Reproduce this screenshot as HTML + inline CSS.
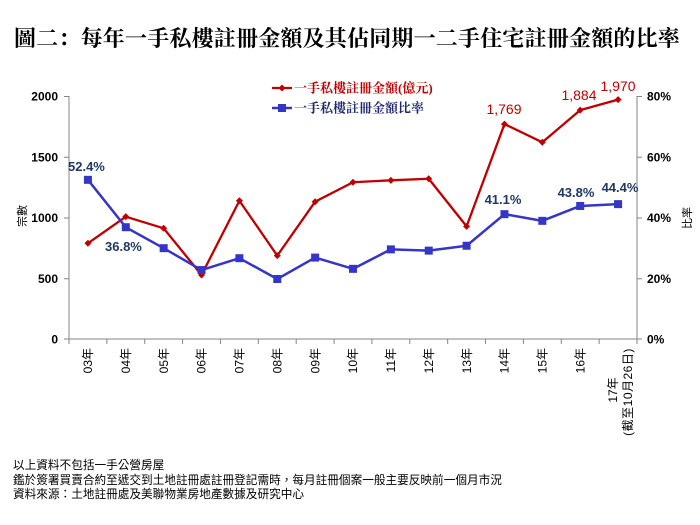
<!DOCTYPE html>
<html><head><meta charset="utf-8">
<style>
html,body{margin:0;padding:0;background:#fff;}
svg{display:block;}
</style></head>
<body>
<svg width="700" height="525" viewBox="0 0 700 525" xmlns="http://www.w3.org/2000/svg">
<rect width="700" height="525" fill="#fff"/>
<!-- Title -->
<text x="14" y="46" font-family="'Liberation Serif','Noto Serif CJK SC',serif" font-weight="bold" font-size="22" letter-spacing="0.2" fill="#000">圖二：每年一手私樓註冊金額及其佔同期一二手住宅註冊金額的比率</text>

<!-- Axes -->
<g stroke="#868686" stroke-width="1" fill="none">
<line x1="69" y1="96" x2="69" y2="339"/>
<line x1="637" y1="96" x2="637" y2="339"/>
<line x1="69" y1="339" x2="637" y2="339"/>
<line x1="64" y1="96.5" x2="69" y2="96.5"/>
<line x1="64" y1="157.25" x2="69" y2="157.25"/>
<line x1="64" y1="218" x2="69" y2="218"/>
<line x1="64" y1="278.75" x2="69" y2="278.75"/>
<line x1="64" y1="339" x2="69" y2="339"/>
<line x1="637" y1="96.5" x2="642" y2="96.5"/>
<line x1="637" y1="157.25" x2="642" y2="157.25"/>
<line x1="637" y1="218" x2="642" y2="218"/>
<line x1="637" y1="278.75" x2="642" y2="278.75"/>
<line x1="637" y1="339" x2="642" y2="339"/>
<line x1="69" y1="339" x2="69" y2="344"/>
<line x1="106.87" y1="339" x2="106.87" y2="344"/>
<line x1="144.73" y1="339" x2="144.73" y2="344"/>
<line x1="182.6" y1="339" x2="182.6" y2="344"/>
<line x1="220.47" y1="339" x2="220.47" y2="344"/>
<line x1="258.33" y1="339" x2="258.33" y2="344"/>
<line x1="296.2" y1="339" x2="296.2" y2="344"/>
<line x1="334.07" y1="339" x2="334.07" y2="344"/>
<line x1="371.93" y1="339" x2="371.93" y2="344"/>
<line x1="409.8" y1="339" x2="409.8" y2="344"/>
<line x1="447.67" y1="339" x2="447.67" y2="344"/>
<line x1="485.53" y1="339" x2="485.53" y2="344"/>
<line x1="523.4" y1="339" x2="523.4" y2="344"/>
<line x1="561.27" y1="339" x2="561.27" y2="344"/>
<line x1="599.13" y1="339" x2="599.13" y2="344"/>
<line x1="637" y1="339" x2="637" y2="344"/>
</g>

<!-- Left tick labels -->
<g font-family="'Liberation Sans',sans-serif" font-weight="bold" font-size="12" fill="#000" text-anchor="end">
<text x="58" y="100.5">2000</text>
<text x="58" y="161.5">1500</text>
<text x="58" y="222">1000</text>
<text x="58" y="283">500</text>
<text x="58" y="343.5">0</text>
</g>
<!-- Right tick labels -->
<g font-family="'Liberation Sans',sans-serif" font-weight="bold" font-size="12" fill="#000" text-anchor="start">
<text x="647" y="100.5">80%</text>
<text x="647" y="161.5">60%</text>
<text x="647" y="222">40%</text>
<text x="647" y="283">20%</text>
<text x="647" y="343.5">0%</text>
</g>

<!-- Axis titles -->
<text transform="translate(22,216) rotate(-90)" text-anchor="middle" dy="0.35em" font-family="'Liberation Sans','Noto Sans CJK TC',sans-serif" font-size="11" fill="#000">宗數</text>
<text transform="translate(687,218) rotate(-90)" text-anchor="middle" dy="0.35em" font-family="'Liberation Sans','Noto Sans CJK TC',sans-serif" font-size="11" fill="#000">比率</text>

<!-- X labels -->
<g font-family="'Liberation Sans','Noto Sans CJK TC',sans-serif" font-size="12" fill="#000" text-anchor="end">
<text transform="translate(87.93,348) rotate(-90)" dy="0.35em">03年</text>
<text transform="translate(125.8,348) rotate(-90)" dy="0.35em">04年</text>
<text transform="translate(163.67,348) rotate(-90)" dy="0.35em">05年</text>
<text transform="translate(201.53,348) rotate(-90)" dy="0.35em">06年</text>
<text transform="translate(239.4,348) rotate(-90)" dy="0.35em">07年</text>
<text transform="translate(277.27,348) rotate(-90)" dy="0.35em">08年</text>
<text transform="translate(315.13,348) rotate(-90)" dy="0.35em">09年</text>
<text transform="translate(353,348) rotate(-90)" dy="0.35em">10年</text>
<text transform="translate(390.87,348) rotate(-90)" dy="0.35em">11年</text>
<text transform="translate(428.73,348) rotate(-90)" dy="0.35em">12年</text>
<text transform="translate(466.6,348) rotate(-90)" dy="0.35em">13年</text>
<text transform="translate(504.47,348) rotate(-90)" dy="0.35em">14年</text>
<text transform="translate(542.33,348) rotate(-90)" dy="0.35em">15年</text>
<text transform="translate(580.2,348) rotate(-90)" dy="0.35em">16年</text>
</g>
<g font-family="'Liberation Sans','Noto Sans CJK TC',sans-serif" font-size="12" fill="#000" text-anchor="middle">
<text transform="translate(613,390) rotate(-90)" dy="0.35em">17年</text>
<text transform="translate(628,392) rotate(-90)" dy="0.35em" letter-spacing="0.5">(截至10月26日)</text>
</g>

<!-- Red series -->
<polyline fill="none" stroke="#c00000" stroke-width="2.3" stroke-linejoin="round"
 points="87.93,243.26 125.8,216.65 163.67,228.31 201.53,274.97 239.4,200.73 277.27,255.65 315.13,201.7 353,182.26 390.87,180.32 428.73,178.74 466.6,226.37 504.47,124.07 542.33,142.29 580.2,110.09 618.07,99.64"/>
<g fill="#c00000">
<polygon points="87.93,239.76 91.43,243.26 87.93,246.76 84.43,243.26"/>
<polygon points="125.8,213.15 129.3,216.65 125.8,220.15 122.3,216.65"/>
<polygon points="163.67,224.81 167.17,228.31 163.67,231.81 160.17,228.31"/>
<polygon points="201.53,271.47 205.03,274.97 201.53,278.47 198.03,274.97"/>
<polygon points="239.4,197.23 242.9,200.73 239.4,204.23 235.9,200.73"/>
<polygon points="277.27,252.15 280.77,255.65 277.27,259.15 273.77,255.65"/>
<polygon points="315.13,198.2 318.63,201.7 315.13,205.2 311.63,201.7"/>
<polygon points="353,178.76 356.5,182.26 353,185.76 349.5,182.26"/>
<polygon points="390.87,176.82 394.37,180.32 390.87,183.82 387.37,180.32"/>
<polygon points="428.73,175.24 432.23,178.74 428.73,182.24 425.23,178.74"/>
<polygon points="466.6,222.87 470.1,226.37 466.6,229.87 463.1,226.37"/>
<polygon points="504.47,120.57 507.97,124.07 504.47,127.57 500.97,124.07"/>
<polygon points="542.33,138.79 545.83,142.29 542.33,145.79 538.83,142.29"/>
<polygon points="580.2,106.59 583.7,110.09 580.2,113.59 576.7,110.09"/>
<polygon points="618.07,96.14 621.57,99.64 618.07,103.14 614.57,99.64"/>
</g>

<!-- Blue series -->
<polyline fill="none" stroke="#3535c8" stroke-width="2.5" stroke-linejoin="round"
 points="87.93,179.83 125.8,227.22 163.67,248.18 201.53,270.05 239.4,258.2 277.27,279.01 315.13,257.59 353,268.83 390.87,249.39 428.73,250.61 466.6,245.75 504.47,214.16 542.33,220.84 580.2,205.96 618.07,204.13"/>
<g fill="#3535c8">
<rect x="83.93" y="175.83" width="8" height="8"/>
<rect x="121.8" y="223.22" width="8" height="8"/>
<rect x="159.67" y="244.18" width="8" height="8"/>
<rect x="197.53" y="266.05" width="8" height="8"/>
<rect x="235.4" y="254.2" width="8" height="8"/>
<rect x="273.27" y="275.01" width="8" height="8"/>
<rect x="311.13" y="253.59" width="8" height="8"/>
<rect x="349" y="264.83" width="8" height="8"/>
<rect x="386.87" y="245.39" width="8" height="8"/>
<rect x="424.73" y="246.61" width="8" height="8"/>
<rect x="462.6" y="241.75" width="8" height="8"/>
<rect x="500.47" y="210.16" width="8" height="8"/>
<rect x="538.33" y="216.84" width="8" height="8"/>
<rect x="576.2" y="201.96" width="8" height="8"/>
<rect x="614.07" y="200.13" width="8" height="8"/>
</g>

<!-- Data labels -->
<g font-family="'Liberation Sans',sans-serif" font-weight="bold" font-size="13" fill="#1f3864">
<text x="68" y="171">52.4%</text>
<text x="105" y="251">36.8%</text>
<text x="503" y="204" text-anchor="middle">41.1%</text>
<text x="576" y="197" text-anchor="middle">43.8%</text>
<text x="620" y="192" text-anchor="middle">44.4%</text>
</g>
<g font-family="'Liberation Sans',sans-serif" font-size="14" fill="#c00000" text-anchor="middle">
<text x="504" y="114">1,769</text>
<text x="579" y="100">1,884</text>
<text x="618" y="91">1,970</text>
</g>

<!-- Legend -->
<line x1="272" y1="88" x2="292" y2="88" stroke="#c00000" stroke-width="2.3"/>
<polygon points="282,84.5 285.5,88 282,91.5 278.5,88" fill="#c00000"/>
<text x="294" y="92.5" font-family="'Liberation Serif','Noto Serif CJK SC',serif" font-weight="bold" font-size="13" fill="#c00000">一手私樓註冊金額(億元)</text>
<line x1="272" y1="108" x2="292" y2="108" stroke="#3535c8" stroke-width="2.5"/>
<rect x="278" y="104" width="8" height="8" fill="#3535c8"/>
<text x="294" y="112.5" font-family="'Liberation Serif','Noto Serif CJK SC',serif" font-weight="bold" font-size="13" fill="#1f2a6e">一手私樓註冊金額比率</text>

<!-- Footer -->
<g font-family="'Liberation Sans','Noto Sans CJK TC',sans-serif" font-size="11.65" fill="#000">
<text x="13" y="469">以上資料不包括一手公營房屋</text>
<text x="13" y="484">鑑於簽署買賣合約至遞交到土地註冊處註冊登記需時，每月註冊個案一般主要反映前一個月市況</text>
<text x="13" y="498">資料來源：土地註冊處及美聯物業房地產數據及研究中心</text>
</g>
</svg>
</body></html>
